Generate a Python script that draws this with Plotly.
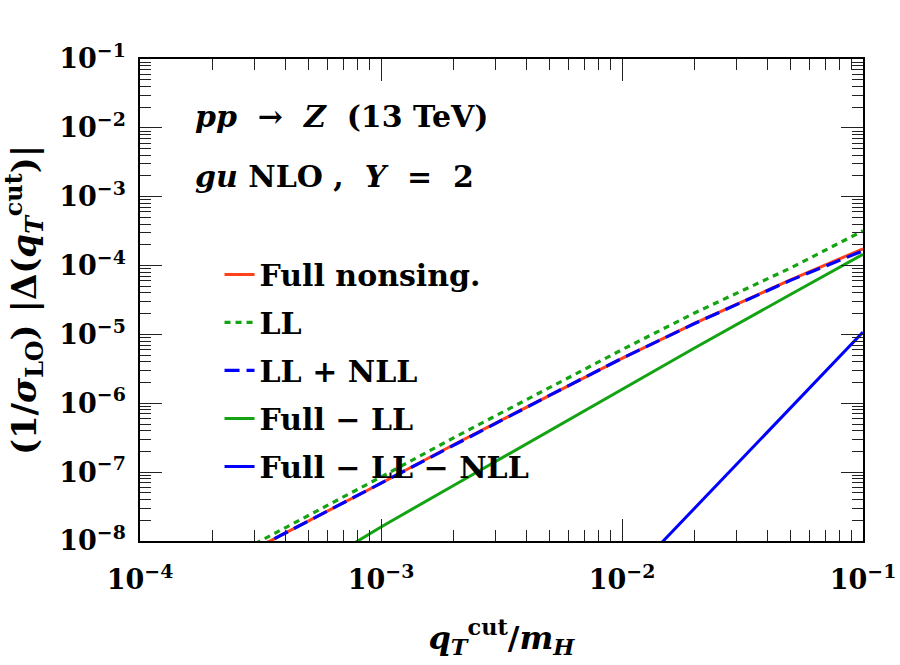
import plotly.graph_objects as go

# ---- data (x = qT_cut / m_H) ----
x_main = [3e-4, 5e-4, 1e-3, 2e-3, 5e-3, 1e-2, 2e-2, 5e-2, 1e-1]
full_nonsing = [7.7e-9, 1.95e-8, 6.9e-8, 2.5e-7, 1.3e-6, 4.5e-6, 1.45e-5, 6.2e-5, 1.75e-4]
ll = [9.1e-9, 2.34e-8, 8.5e-8, 3.15e-7, 1.7e-6, 6.0e-6, 2.05e-5, 9.2e-5, 3.2e-4]
ll_nll = [7.7e-9, 1.95e-8, 6.9e-8, 2.5e-7, 1.3e-6, 4.5e-6, 1.44e-5, 6.1e-5, 1.64e-4]

x_full_ll = [7.5e-4, 1e-3, 2e-3, 5e-3, 1e-2, 2e-2, 5e-2, 1e-1]
full_minus_ll = [8.7e-9, 1.6e-8, 6.4e-8, 4.0e-7, 1.6e-6, 6.35e-6, 3.8e-5, 1.46e-4]

x_full_ll_nll = [1.4e-2, 2e-2, 3e-2, 5e-2, 7e-2, 1e-1]
full_minus_ll_nll = [8.1e-9, 3.0e-8, 1.32e-7, 8.55e-7, 2.93e-6, 1.08e-5]

x_tickvals = [1e-4, 1e-3, 1e-2, 1e-1]
x_ticktext = ["10<sup>\u22124</sup>", "10<sup>\u22123</sup>", "10<sup>\u22122</sup>", "10<sup>\u22121</sup>"]
y_tickvals = [1e-8, 1e-7, 1e-6, 1e-5, 1e-4, 1e-3, 1e-2, 1e-1]
y_ticktext = ["10<sup>\u22128</sup>", "10<sup>\u22127</sup>", "10<sup>\u22126</sup>", "10<sup>\u22125</sup>",
              "10<sup>\u22124</sup>", "10<sup>\u22123</sup>", "10<sup>\u22122</sup>", "10<sup>\u22121</sup>"]

RED = "#ff4019"
GREEN = "#13a313"
BLUE = "#0000ff"
FONT = "DejaVu Serif"

fig = go.Figure()
fig.add_trace(go.Scatter(x=x_main, y=full_nonsing, mode="lines", name="Full nonsing.",
                         legendgroup="a", line=dict(color=RED, width=3)))
fig.add_trace(go.Scatter(x=x_main, y=ll, mode="lines", name="LL",
                         legendgroup="b", line=dict(color=GREEN, width=3.2, dash="6px,5px")))
fig.add_trace(go.Scatter(x=x_main, y=ll_nll, mode="lines", name="LL + NLL",
                         legendgroup="c", line=dict(color=BLUE, width=3.2, dash="15px,7px")))
fig.add_trace(go.Scatter(x=x_full_ll, y=full_minus_ll, mode="lines", name="Full \u2212 LL",
                         legendgroup="d", line=dict(color=GREEN, width=3)))
fig.add_trace(go.Scatter(x=x_full_ll_nll, y=full_minus_ll_nll, mode="lines",
                         name="Full \u2212 LL \u2212 NLL",
                         legendgroup="e", line=dict(color=BLUE, width=3)))

minor_x = [k * 10.0 ** e for e in range(-4, -1) for k in range(2, 10)]
minor_y = [k * 10.0 ** e for e in range(-8, -1) for k in range(2, 10)]

axis_common = dict(
    type="log", showline=True, linecolor="black", linewidth=1.5, mirror="ticks",
    ticks="inside", ticklen=22, tickwidth=1, tickcolor="#222",
    showgrid=False, zeroline=False, tickmode="array", automargin=False,
    tickfont=dict(family=FONT, size=27, color="black", weight="bold"),
)

fig.update_xaxes(
    **axis_common, range=[-4, -1], tickvals=x_tickvals, ticktext=x_ticktext,
    ticklabelstandoff=14,
    minor=dict(tickmode="array", tickvals=minor_x, ticks="inside", ticklen=11,
               tickwidth=1, tickcolor="#222", showgrid=False),
    title=dict(text="<i>q</i><sub><i>T</i></sub><sup>cut</sup>/<i>m</i><sub><i>H</i></sub>",
               font=dict(family=FONT, size=32, color="black", weight="bold"), standoff=32),
)
fig.update_yaxes(
    **axis_common, range=[-8, -1], tickvals=y_tickvals, ticktext=y_ticktext,
    ticklabelstandoff=7,
    minor=dict(tickmode="array", tickvals=minor_y, ticks="inside", ticklen=11,
               tickwidth=1, tickcolor="#222", showgrid=False),
    title=dict(text="(1/<i>\u03c3</i><sub>LO</sub>) |\u0394(<i>q</i><sub><i>T</i></sub><sup>cut</sup>)|",
               font=dict(family=FONT, size=34, color="black", weight="bold"), standoff=16),
)

fig.add_annotation(xref="paper", yref="paper", x=0.0733, y=0.880, xanchor="left", yanchor="middle",
                   text="<i>pp</i>  \u2192  <i>Z</i>  (13 TeV)", showarrow=False,
                   font=dict(family=FONT, size=30, color="black", weight="bold"))
fig.add_annotation(xref="paper", yref="paper", x=0.0733, y=0.757, xanchor="left", yanchor="middle",
                   text="<i>gu</i> NLO ,  <i>Y</i>  =  2", showarrow=False,
                   font=dict(family=FONT, size=30, color="black", weight="bold"))

fig.update_layout(
    width=900, height=665,
    margin=dict(l=140, r=37, t=59, b=124, autoexpand=False),
    paper_bgcolor="white", plot_bgcolor="white",
    showlegend=True,
    legend=dict(x=0.11, y=0.607, xanchor="left", yanchor="top",
                bgcolor="rgba(0,0,0,0)", borderwidth=0, tracegroupgap=6,
                font=dict(family=FONT, size=30, color="black", weight="bold")),
)

fig.write_html("out.html")
